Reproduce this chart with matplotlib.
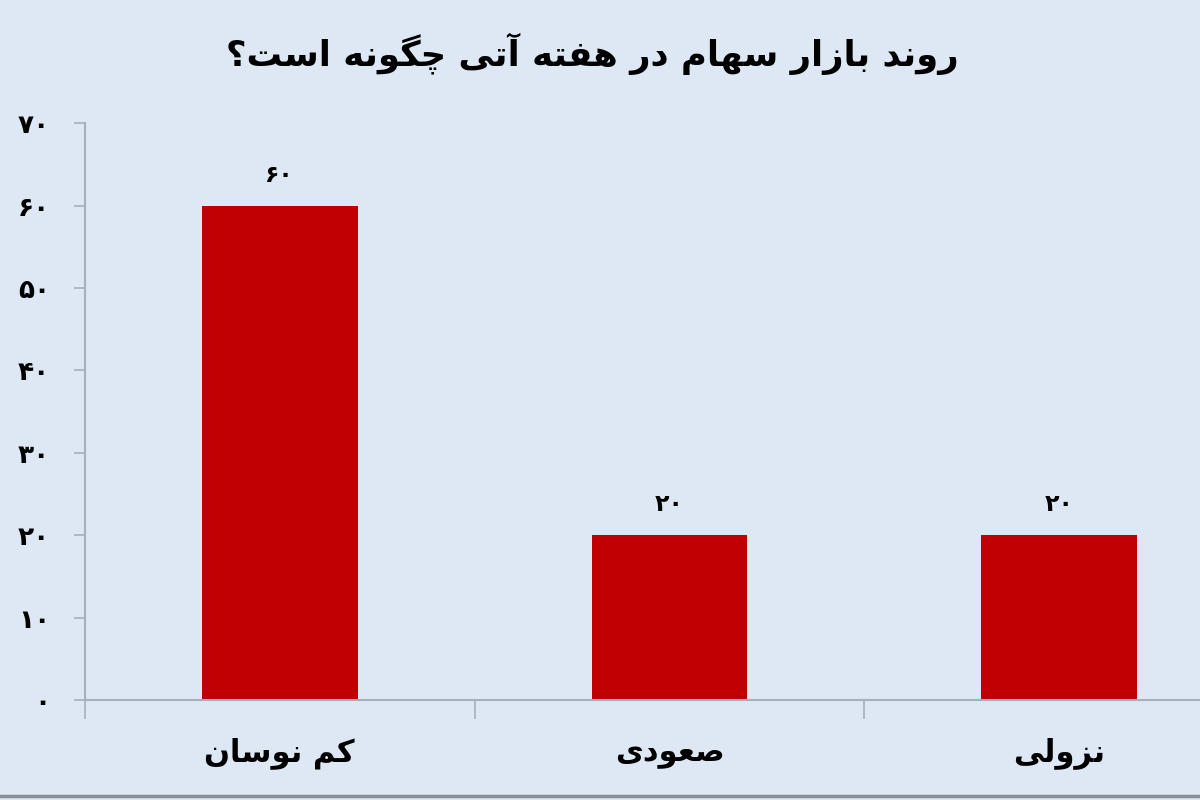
import matplotlib
matplotlib.use("Agg")
import matplotlib.pyplot as plt
from matplotlib.lines import Line2D
from matplotlib.ticker import FixedLocator

# ------------------------------------------------------------
#  Datos
# ------------------------------------------------------------
TITLE = "روند بازار سهام در هفته آتی چگونه است؟"
categories = ["کم نوسان", "صعودی", "نزولی"]
values = [60, 20, 20]
yticks = [0, 10, 20, 30, 40, 50, 60, 70]

BG = "#dde8f4"
BAR = "#c00000"
AXC = "#a7b0ba"

# ------------------------------------------------------------
#  Formas contextuales árabes/persas (matplotlib no hace shaping)
#  (aislada, final, inicial, medial); None => sólo une a la derecha
# ------------------------------------------------------------
FORMS = {
    "ا": (0xFE8D, 0xFE8E, None, None),
    "آ": (0xFE81, 0xFE82, None, None),
    "د": (0xFEA9, 0xFEAA, None, None),
    "ر": (0xFEAD, 0xFEAE, None, None),
    "ز": (0xFEAF, 0xFEB0, None, None),
    "و": (0xFEED, 0xFEEE, None, None),
    "ب": (0xFE8F, 0xFE90, 0xFE91, 0xFE92),
    "ت": (0xFE95, 0xFE96, 0xFE97, 0xFE98),
    "چ": (0xFB7A, 0xFB7B, 0xFB7C, 0xFB7D),
    "س": (0xFEB1, 0xFEB2, 0xFEB3, 0xFEB4),
    "ص": (0xFEB9, 0xFEBA, 0xFEBB, 0xFEBC),
    "ع": (0xFEC9, 0xFECA, 0xFECB, 0xFECC),
    "ف": (0xFED1, 0xFED2, 0xFED3, 0xFED4),
    "ک": (0xFB8E, 0xFB8F, 0xFB90, 0xFB91),
    "گ": (0xFB92, 0xFB93, 0xFB94, 0xFB95),
    "ل": (0xFEDD, 0xFEDE, 0xFEDF, 0xFEE0),
    "م": (0xFEE1, 0xFEE2, 0xFEE3, 0xFEE4),
    "ن": (0xFEE5, 0xFEE6, 0xFEE7, 0xFEE8),
    "ه": (0xFEE9, 0xFEEA, 0xFEEB, 0xFEEC),
    "ی": (0xFBFC, 0xFBFD, 0xFBFE, 0xFBFF),
}


def dual(c):
    return c in FORMS and FORMS[c][2] is not None


def shape(txt):
    out = []
    for i, c in enumerate(txt):
        if c not in FORMS:
            out.append(c)
            continue
        prev = txt[i - 1] if i > 0 else ""
        nxt = txt[i + 1] if i + 1 < len(txt) else ""
        jp = dual(prev)
        jn = dual(c) and nxt in FORMS
        iso, fin, ini, med = FORMS[c]
        if jp and jn:
            cp = med
        elif jp:
            cp = fin
        elif jn:
            cp = ini
        else:
            cp = iso
        out.append(chr(cp))
    return "".join(out)[::-1]


FA_DIGITS = "۰۱۲۳۴۵۶۷۸۹"


def fa_num(n):
    return "".join(FA_DIGITS[int(d)] for d in str(n))


# ------------------------------------------------------------
#  Figura
# ------------------------------------------------------------
plt.rcParams["font.family"] = ["DejaVu Sans"]

fig = plt.figure(figsize=(12, 8), dpi=100, facecolor=BG)
ax = fig.add_axes([0.0708, 0.125, 0.9742, 0.721])
ax.set_facecolor(BG)

x = list(range(len(categories)))
ax.bar(x, values, width=0.4, color=BAR, zorder=2)

for xi, v in zip(x, values):
    ax.text(xi, v + 2.3, fa_num(v), ha="center", va="bottom",
            fontsize=17, fontweight="bold", color="black")

ax.set_xlim(-0.5, len(categories) - 0.5)
ax.set_ylim(0, 70)
ax.set_yticks(yticks)
ax.set_yticklabels([fa_num(t) for t in yticks], fontsize=19, fontweight="bold")
ax.set_xticks(x)
ax.set_xticklabels([shape(c) for c in categories], fontsize=22,
                   fontweight="bold", va="baseline")
ax.xaxis.set_minor_locator(FixedLocator([-0.5, 0.5, 1.5, 2.5]))
ax.tick_params(axis="x", which="major", length=0, pad=44)
ax.tick_params(axis="x", which="minor", length=14, color=AXC, width=1.2)
ax.tick_params(axis="y", length=8, color=AXC, width=1.2, pad=17)

for s in ["top", "right"]:
    ax.spines[s].set_visible(False)
for s in ["left", "bottom"]:
    ax.spines[s].set_color(AXC)
    ax.spines[s].set_linewidth(1.5)

fig.text(0.494, 0.933, shape(TITLE), ha="center", va="center",
         fontsize=25.5, fontweight="bold", color="black")

# borde inferior del recuadro
fig.add_artist(Line2D([0, 1], [0.005, 0.005], transform=fig.transFigure,
                      color="#8a8f95", lw=2.5))

fig.savefig("out.png", dpi=100, facecolor=BG)
